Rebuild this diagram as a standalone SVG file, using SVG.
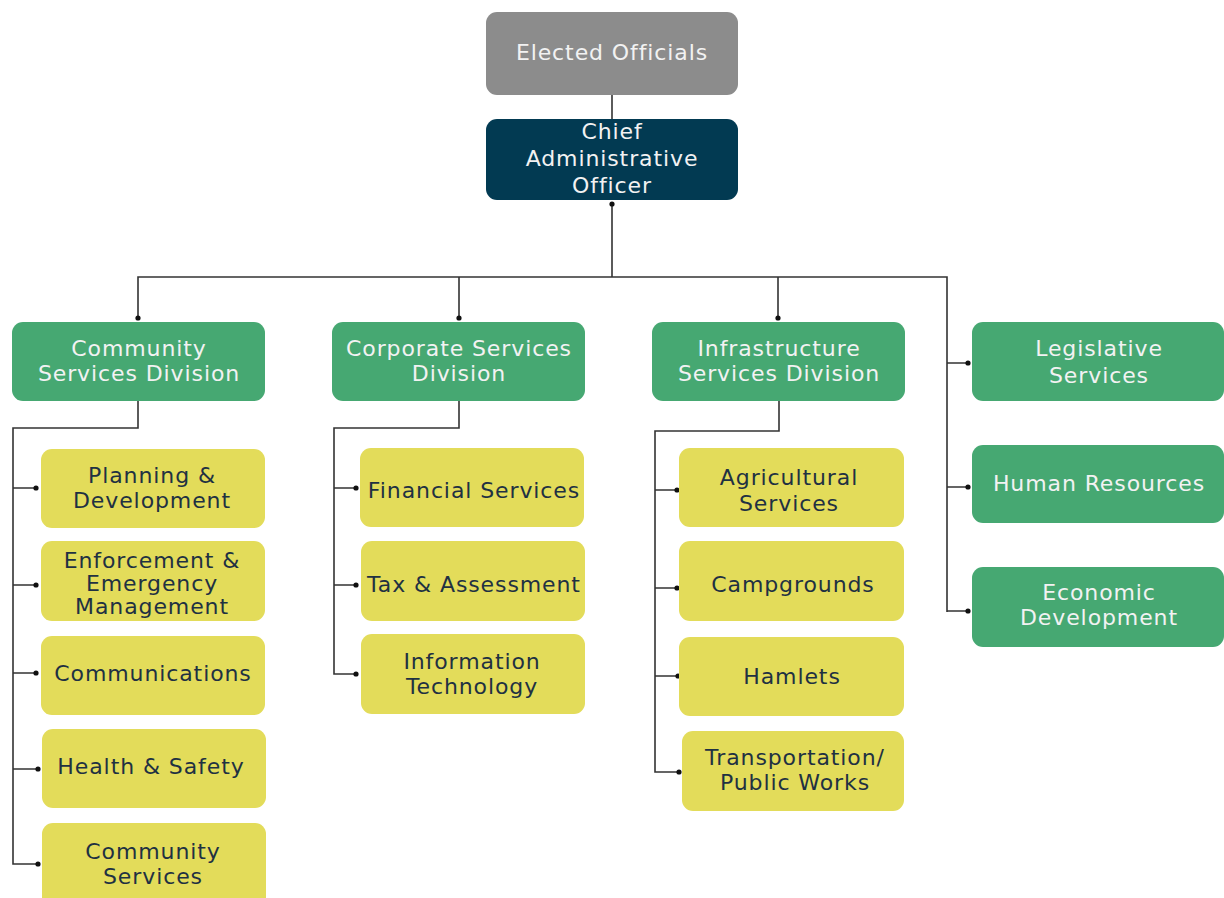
<svg xmlns="http://www.w3.org/2000/svg" width="1224" height="898" viewBox="0 0 1224 898">
<style>
.grey{fill:#8c8c8c}
.navy{fill:#023a52}
.green{fill:#46a872}
.yellow{fill:#e3dc5a}
text{font-family:"DejaVu Sans","Liberation Sans",sans-serif;font-size:22px;letter-spacing:0.9px;text-anchor:middle}
.lt{fill:#f2f2f2}
.dk{fill:#1f3142}
.ln{fill:none;stroke:#333;stroke-width:1.6}
.dot{fill:#111}
</style>
<rect width="1224" height="898" fill="#fff"/>
<g id="connectors">
<path class="ln" d="M612 95V119"/>
<path class="ln" d="M612 204V277M138 318V277H947V612M459 277V318M778 277V318"/>
<path class="ln" d="M947 363H968M947 487H968M947 611H968"/>
<path class="ln" d="M138 401V428H13V864H38M13 488H36M13 585H36M13 673H36M13 769H38"/>
<path class="ln" d="M459 401V428H334V674H356M334 488H356M334 585H356"/>
<path class="ln" d="M779 401V431H655V772H679M655 490H677M655 588H677M655 676H678"/>
<circle class="dot" cx="612" cy="204" r="2.6"/>
<circle class="dot" cx="138" cy="318" r="2.6"/>
<circle class="dot" cx="459" cy="318" r="2.6"/>
<circle class="dot" cx="778" cy="318" r="2.6"/>
<circle class="dot" cx="968" cy="363" r="2.6"/>
<circle class="dot" cx="968" cy="487" r="2.6"/>
<circle class="dot" cx="968" cy="611" r="2.6"/>
<circle class="dot" cx="36" cy="488" r="2.6"/>
<circle class="dot" cx="36" cy="585" r="2.6"/>
<circle class="dot" cx="36" cy="673" r="2.6"/>
<circle class="dot" cx="38" cy="769" r="2.6"/>
<circle class="dot" cx="38" cy="864" r="2.6"/>
<circle class="dot" cx="356" cy="488" r="2.6"/>
<circle class="dot" cx="356" cy="585" r="2.6"/>
<circle class="dot" cx="356" cy="674" r="2.6"/>
<circle class="dot" cx="677" cy="490" r="2.6"/>
<circle class="dot" cx="677" cy="588" r="2.6"/>
<circle class="dot" cx="678" cy="676" r="2.6"/>
<circle class="dot" cx="679" cy="772" r="2.6"/>
</g>
<g id="elected"><rect class="grey" x="486" y="12" width="252" height="83" rx="11"/><text class="lt" x="612" y="60">Elected Officials</text></g>
<g id="cao"><rect class="navy" x="486" y="119" width="252" height="81" rx="11"/><text class="lt" x="612" y="139">Chief</text><text class="lt" x="612" y="166">Administrative</text><text class="lt" x="612" y="193">Officer</text></g>
<g id="community-div"><rect class="green" x="12" y="322" width="253" height="79" rx="11"/><text class="lt" x="139" y="356">Community</text><text class="lt" x="139" y="381">Services Division</text></g>
<g id="corporate-div"><rect class="green" x="332" y="322" width="253" height="79" rx="11"/><text class="lt" x="459" y="356">Corporate Services</text><text class="lt" x="459" y="381">Division</text></g>
<g id="infra-div"><rect class="green" x="652" y="322" width="253" height="79" rx="11"/><text class="lt" x="779" y="356">Infrastructure</text><text class="lt" x="779" y="381">Services Division</text></g>
<g id="legislative"><rect class="green" x="972" y="322" width="252" height="79" rx="11"/><text class="lt" x="1099" y="356">Legislative</text><text class="lt" x="1099" y="383">Services</text></g>
<g id="hr"><rect class="green" x="972" y="445" width="252" height="78" rx="11"/><text class="lt" x="1099" y="491">Human Resources</text></g>
<g id="economic"><rect class="green" x="972" y="567" width="252" height="80" rx="11"/><text class="lt" x="1099" y="600">Economic</text><text class="lt" x="1099" y="625">Development</text></g>
<g id="planning"><rect class="yellow" x="41" y="449" width="224" height="79" rx="11"/><text class="dk" x="152" y="483">Planning &amp;</text><text class="dk" x="152" y="508">Development</text></g>
<g id="enforcement"><rect class="yellow" x="41" y="541" width="224" height="80" rx="11"/><text class="dk" x="152" y="568">Enforcement &amp;</text><text class="dk" x="152" y="591">Emergency</text><text class="dk" x="152" y="614">Management</text></g>
<g id="communications"><rect class="yellow" x="41" y="636" width="224" height="79" rx="11"/><text class="dk" x="153" y="681">Communications</text></g>
<g id="health"><rect class="yellow" x="42" y="729" width="224" height="79" rx="11"/><text class="dk" x="151" y="774">Health &amp; Safety</text></g>
<g id="community-services"><rect class="yellow" x="42" y="823" width="224" height="86" rx="11"/><text class="dk" x="153" y="859">Community</text><text class="dk" x="153" y="884">Services</text></g>
<g id="financial"><rect class="yellow" x="360" y="448" width="224" height="79" rx="11"/><text class="dk" x="474" y="498">Financial Services</text></g>
<g id="tax"><rect class="yellow" x="361" y="541" width="224" height="80" rx="11"/><text class="dk" x="474" y="592">Tax &amp; Assessment</text></g>
<g id="it"><rect class="yellow" x="361" y="634" width="224" height="80" rx="11"/><text class="dk" x="472" y="669">Information</text><text class="dk" x="472" y="694">Technology</text></g>
<g id="agricultural"><rect class="yellow" x="679" y="448" width="225" height="79" rx="11"/><text class="dk" x="789" y="485">Agricultural</text><text class="dk" x="789" y="511">Services</text></g>
<g id="campgrounds"><rect class="yellow" x="679" y="541" width="225" height="80" rx="11"/><text class="dk" x="793" y="592">Campgrounds</text></g>
<g id="hamlets"><rect class="yellow" x="679" y="637" width="225" height="79" rx="11"/><text class="dk" x="792" y="684">Hamlets</text></g>
<g id="transportation"><rect class="yellow" x="682" y="731" width="222" height="80" rx="11"/><text class="dk" x="795" y="765">Transportation/</text><text class="dk" x="795" y="790">Public Works</text></g>
</svg>
